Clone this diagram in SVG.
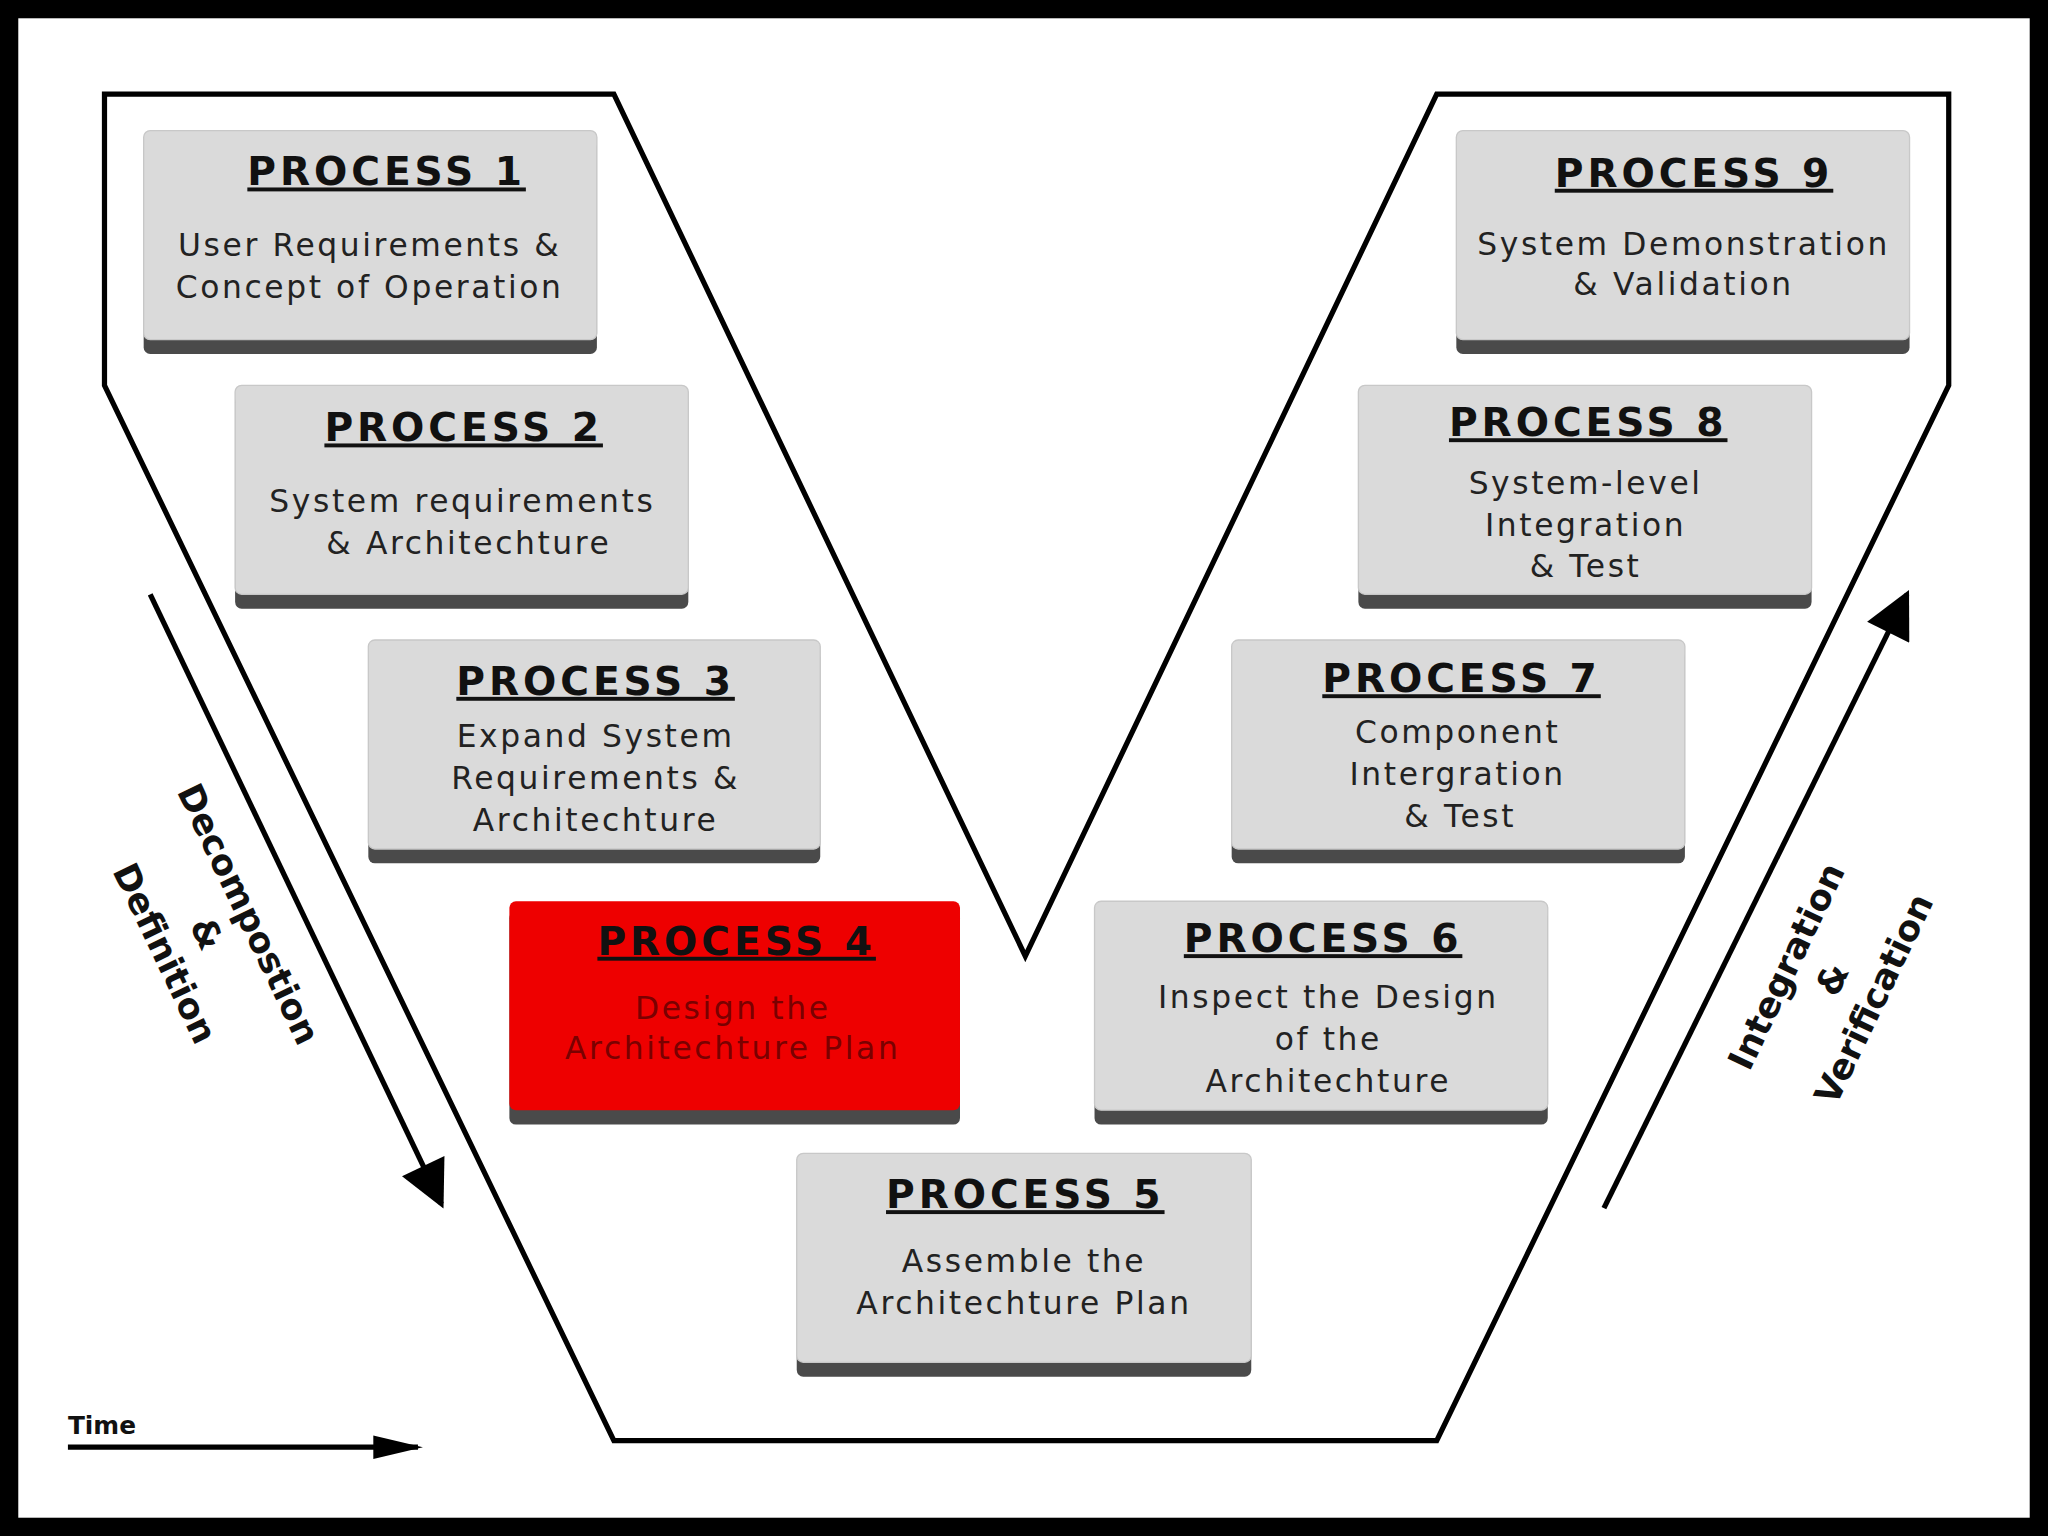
<svg xmlns="http://www.w3.org/2000/svg" width="2048" height="1536" viewBox="0 0 2048 1536">
<defs>
<style>
.t{font-family:"DejaVu Sans",Verdana,sans-serif;font-weight:bold;font-size:30px;letter-spacing:3px;text-decoration:underline;fill:#111;text-anchor:middle}
.b{font-family:"DejaVu Sans",Verdana,sans-serif;font-size:24px;letter-spacing:2px;fill:#222;text-anchor:middle}
.r{font-family:"DejaVu Sans",Verdana,sans-serif;font-weight:bold;font-size:27px;fill:#111;text-anchor:middle}
.box{fill:#dadada;stroke:#c8c8c8;stroke-width:1}
.sh{fill:#4a4a4a}
.ln{stroke:#000;stroke-width:4;fill:none}
</style>
<marker id="ah2" viewBox="0 0 10 10" refX="9" refY="5" markerWidth="42" markerHeight="36" orient="auto" markerUnits="userSpaceOnUse">
<path d="M0,0 L10,5 L0,10 z" fill="#000"/>
</marker>
<marker id="ah3" viewBox="0 0 10 10" preserveAspectRatio="none" refX="9" refY="5" markerWidth="38" markerHeight="18" orient="auto" markerUnits="userSpaceOnUse">
<path d="M0,0 L10,5 L0,10 z" fill="#000"/>
</marker>
</defs>
<rect width="2048" height="1536" fill="#000"/>
<g transform="scale(1.30612)">
<rect x="14" y="14" width="1540" height="1148" fill="#fff"/>
<g id="connectors">
<polygon class="ln" stroke-width="5" points="80,72 470,72 785,732 1100,72 1492,72 1492,295 1100,1103 470,1103 80,295"/>
<line class="ln" x1="115" y1="455" x2="338" y2="922" marker-end="url(#ah2)"/>
<line class="ln" x1="1228" y1="925" x2="1460" y2="455" marker-end="url(#ah2)"/>
<line class="ln" stroke-width="2.5" x1="52" y1="1108" x2="320" y2="1108" marker-end="url(#ah3)"/>
</g>
<text x="52" y="1098" font-family="DejaVu Sans,sans-serif" font-weight="bold" font-size="19" fill="#111">Time</text>
<g transform="translate(190,700) rotate(64.5)"><text class="r" y="9">Decompostion</text></g>
<g transform="translate(158,715) rotate(64.5)"><text class="r" y="9">&amp;</text></g>
<g transform="translate(126,730) rotate(64.5)"><text class="r" y="9">Definition</text></g>
<g transform="translate(1368,740) rotate(-64.5)"><text class="r" y="9">Integration</text></g>
<g transform="translate(1403,750) rotate(-64.5)"><text class="r" y="9">&amp;</text></g>
<g transform="translate(1435,765) rotate(-64.5)"><text class="r" y="9">Verification</text></g>

<g id="p1"><rect class="sh" x="110" y="108" width="347" height="163" rx="5"/><rect class="box" x="110" y="100" width="347" height="160" rx="5"/>
<text class="t" x="296" y="142">PROCESS 1</text><text class="b" x="283" y="196">User Requirements &amp;</text><text class="b" x="283" y="228">Concept of Operation</text></g>
<g id="p2"><rect class="sh" x="180" y="303" width="347" height="163" rx="5"/><rect class="box" x="180" y="295" width="347" height="160" rx="5"/>
<text class="t" x="355" y="338">PROCESS 2</text><text class="b" x="354" y="392">System requirements</text><text class="b" x="359" y="424">&amp; Architechture</text></g>
<g id="p3"><rect class="sh" x="282" y="498" width="346" height="163" rx="5"/><rect class="box" x="282" y="490" width="346" height="160" rx="5"/>
<text class="t" x="456" y="532">PROCESS 3</text><text class="b" x="456" y="572">Expand System</text><text class="b" x="456" y="604">Requirements &amp;</text><text class="b" x="456" y="636">Architechture</text></g>
<g id="p4"><rect class="sh" x="390" y="698" width="345" height="163" rx="5"/><rect x="390" y="690" width="345" height="160" rx="5" fill="#ee0000"/>
<text class="t" x="564" y="731">PROCESS 4</text><text class="b" x="561" y="780" style="fill:#7a0000">Design the</text><text class="b" x="561" y="811" style="fill:#7a0000">Architechture Plan</text></g>
<g id="p5"><rect class="sh" x="610" y="891" width="348" height="163" rx="5"/><rect class="box" x="610" y="883" width="348" height="160" rx="5"/>
<text class="t" x="785" y="925">PROCESS 5</text><text class="b" x="784" y="974">Assemble the</text><text class="b" x="784" y="1006">Architechture Plan</text></g>
<g id="p6"><rect class="sh" x="838" y="698" width="347" height="163" rx="5"/><rect class="box" x="838" y="690" width="347" height="160" rx="5"/>
<text class="t" x="1013" y="729">PROCESS 6</text><text class="b" x="1017" y="772">Inspect the Design</text><text class="b" x="1017" y="804">of the</text><text class="b" x="1017" y="836">Architechture</text></g>
<g id="p7"><rect class="sh" x="943" y="498" width="347" height="163" rx="5"/><rect class="box" x="943" y="490" width="347" height="160" rx="5"/>
<text class="t" x="1119" y="530">PROCESS 7</text><text class="b" x="1116" y="569">Component</text><text class="b" x="1116" y="601">Intergration</text><text class="b" x="1118" y="633">&amp; Test</text></g>
<g id="p8"><rect class="sh" x="1040" y="303" width="347" height="163" rx="5"/><rect class="box" x="1040" y="295" width="347" height="160" rx="5"/>
<text class="t" x="1216" y="334">PROCESS 8</text><text class="b" x="1214" y="378">System-level</text><text class="b" x="1214" y="410">Integration</text><text class="b" x="1214" y="442">&amp; Test</text></g>
<g id="p9"><rect class="sh" x="1115" y="108" width="347" height="163" rx="5"/><rect class="box" x="1115" y="100" width="347" height="160" rx="5"/>
<text class="t" x="1297" y="143">PROCESS 9</text><text class="b" x="1289" y="195">System Demonstration</text><text class="b" x="1289" y="226">&amp; Validation</text></g>
</g>
</svg>
